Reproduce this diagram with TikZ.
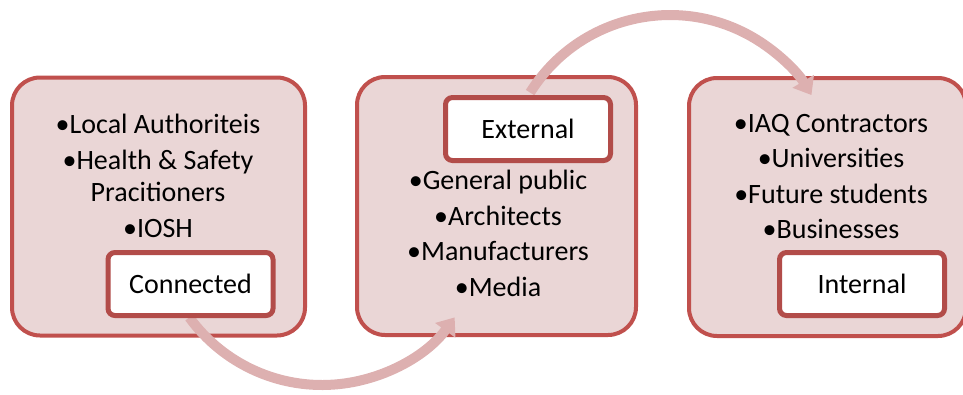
\documentclass[tikz,border=0pt]{standalone}
\usepackage{fontspec}
\setmainfont{Carlito}
\usetikzlibrary{arrows.meta}
\definecolor{bordred}{HTML}{C0504D}
\definecolor{boxfill}{HTML}{EAD6D6}
\definecolor{smallbord}{HTML}{B24C49}
\definecolor{arccol}{HTML}{DDB0B0}
\tikzset{
  bigbox/.style={draw=bordred, fill=boxfill, line width=4pt, rounded corners=28pt,
    minimum height=258pt, inner sep=0pt},
  tagbox/.style={draw=smallbord, fill=white, line width=5pt, rounded corners=7pt,
    minimum width=165pt, minimum height=63pt, inner sep=0pt,
    font=\fontsize{28}{33}\selectfont},
  listtext/.style={align=center, anchor=north, inner sep=0pt,
    font=\fontsize{28}{35.5}\selectfont},
  flow/.style={draw=arccol, line width=10pt,
    -{Triangle[length=16pt,width=24pt]}}
}
\begin{document}
\begin{tikzpicture}[x=1pt,y=1pt]
\useasboundingbox (0,0) rectangle (963,-394);
\clip (0,0) rectangle (963,-394);
% big boxes
\node[bigbox, minimum width=293pt] (left) at (158.5,-206.5) {};
\node[bigbox, minimum width=279pt] (mid) at (496.5,-206) {};
\node[bigbox, minimum width=277pt] (right) at (827.5,-207) {};
% flow arcs
\coordinate (a1s) at (189.3,-317.4);
\draw[flow] (a1s) arc[start angle=216, end angle=324, radius=164];
\coordinate (a2s) at (530.1,-92.6);
\draw[flow] (a2s) arc[start angle=148, end angle=31, radius=165];
% tag boxes
\node[tagbox] (conn) at (190.5,-284) {Connected};
\node[tagbox] (ext) at (528,-129) {External};
\node[tagbox] (int) at (862,-284) {Internal};
% lists
\node[listtext] (ltext) at (158,-114) {•Local Authoriteis\\ •Health \& Safety\\[-3pt] Pracitioners\\ •IOSH};
\node[listtext] (mtext) at (498,-170) {•General public\\ •Architects\\ •Manufacturers\\ •Media};
\node[listtext] (rtext) at (831,-114) {•IAQ Contractors\\ •Universities\\ •Future students\\ •Businesses};
\end{tikzpicture}
\end{document}
